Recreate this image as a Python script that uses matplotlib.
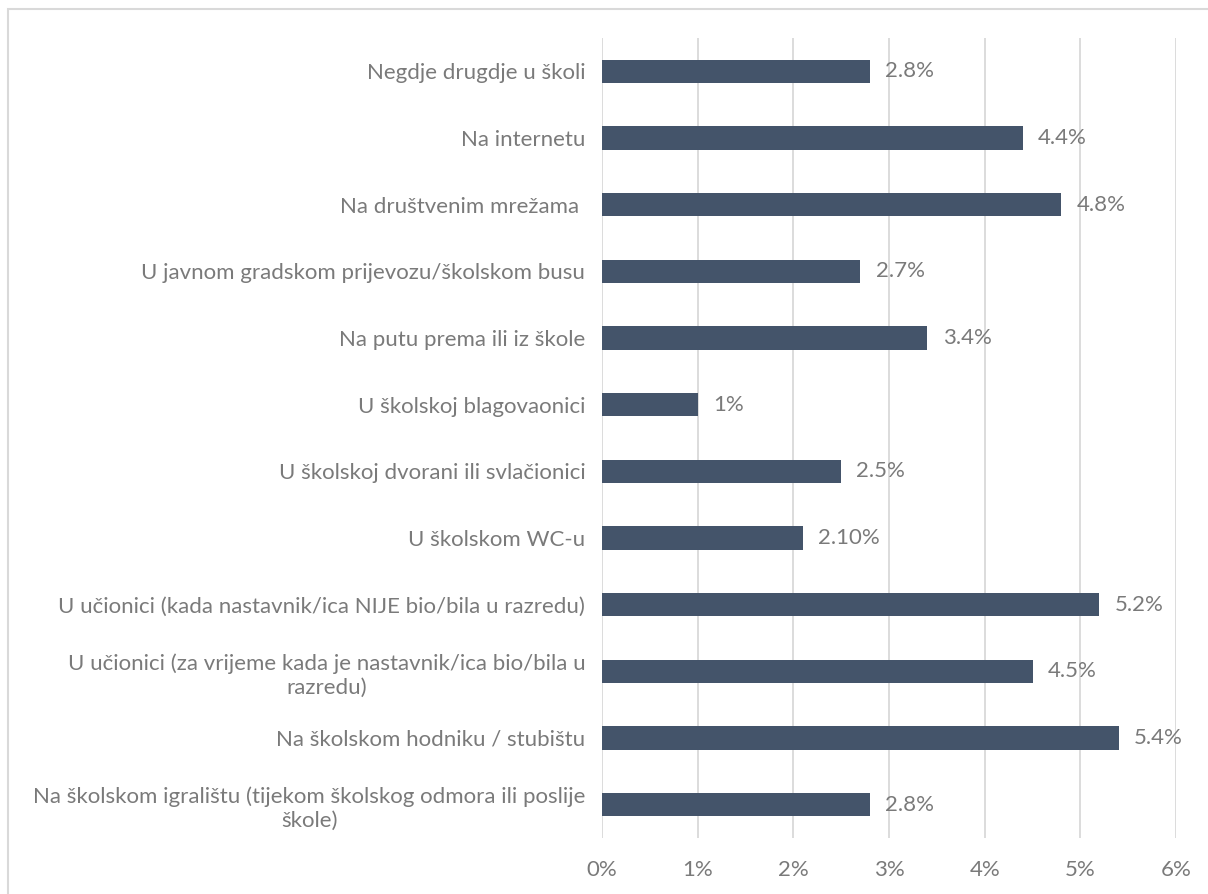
import matplotlib
matplotlib.use("Agg")
import matplotlib.pyplot as plt
from matplotlib.patches import Rectangle
from matplotlib.ticker import FuncFormatter

categories = [
    "Negdje drugdje u školi",
    "Na internetu",
    "Na društvenim mrežama ",
    "U javnom gradskom prijevozu/školskom busu",
    "Na putu prema ili iz škole",
    "U školskoj blagovaonici",
    "U školskoj dvorani ili svlačionici",
    "U školskom WC-u",
    "U učionici (kada nastavnik/ica NIJE bio/bila u razredu)",
    "U učionici (za vrijeme kada je nastavnik/ica bio/bila u\nrazredu)",
    "Na školskom hodniku / stubištu",
    "Na školskom igralištu (tijekom školskog odmora ili poslije\nškole)",
]
values = [2.8, 4.4, 4.8, 2.7, 3.4, 1.0, 2.5, 2.1, 5.2, 4.5, 5.4, 2.8]
value_labels = ["2.8%", "4.4%", "4.8%", "2.7%", "3.4%", "1%", "2.5%",
                "2.10%", "5.2%", "4.5%", "5.4%", "2.8%"]
x_ticks = [0, 1, 2, 3, 4, 5, 6]

BAR = "#44546A"
GRID = "#D9D9D9"
TXT = "#7A7A7A"
FS = 16

plt.rcParams["font.family"] = ["Lato", "DejaVu Sans"]

W, H = 1208, 894
fig = plt.figure(figsize=(W / 100, H / 100), dpi=100)
fig.patch.set_facecolor("white")

# chart frame
fig.add_artist(Rectangle((8 / W, -0.01), 1.1, 1 - 9 / H + 0.01,
                         transform=fig.transFigure, fill=False,
                         edgecolor="#D9D9D9", linewidth=1.5))

ax = fig.add_axes([602 / W, 1 - 838 / H, (1176 - 602) / W, (838 - 38) / H])

ypos = list(range(len(categories)))
ax.barh(ypos, values, height=0.35, color=BAR, zorder=3)
ax.set_ylim(len(categories) - 0.5, -0.5)
ax.set_xlim(0, 6)
ax.set_xticks(x_ticks)
ax.xaxis.set_major_formatter(FuncFormatter(lambda v, p: f"{v:.0f}%"))
ax.set_yticks(ypos)
ax.set_yticklabels(categories, multialignment="center", linespacing=1.25)
ax.tick_params(axis="both", length=0, labelsize=FS, colors=TXT)
ax.tick_params(axis="y", pad=12)
ax.tick_params(axis="x", pad=16)
ax.grid(axis="x", color=GRID, linewidth=1.3, zorder=0)
for s in ax.spines.values():
    s.set_visible(False)

for y, v, lab in zip(ypos, values, value_labels):
    ax.annotate(lab, (v, y), xytext=(11, 0), textcoords="offset points",
                ha="left", va="center", fontsize=FS, color=TXT)

fig.savefig("out.png", dpi=100, facecolor="white")
